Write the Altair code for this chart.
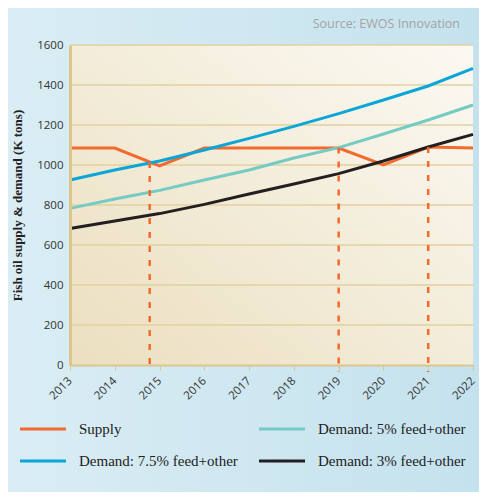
import altair as alt
import pandas as pd

years = [2013, 2014, 2015, 2016, 2017, 2018, 2019, 2020, 2021, 2022]
supply = [1085, 1085, 995, 1085, 1085, 1085, 1085, 1000, 1090, 1085]
demand_75 = [925, 975, 1020, 1075, 1133, 1193, 1257, 1325, 1395, 1483]
demand_5 = [783, 830, 873, 925, 975, 1035, 1087, 1155, 1225, 1300]
demand_3 = [683, 720, 757, 803, 855, 905, 957, 1020, 1090, 1153]

# legend lays out column by column: col 1 = Supply, 7.5%; col 2 = 5%, 3%
series_names = ["Supply", "Demand: 7.5% feed+other", "Demand: 5% feed+other", "Demand: 3% feed+other"]
series_colors = ["#f26a2e", "#0ba6d8", "#74cbc3", "#231f20"]
series_values = [supply, demand_75, demand_5, demand_3]

cross_years = [2014.78, 2019, 2021]
cross_values = [1015, 1087, 1090]

grid_values = [200, 400, 600, 800, 1000, 1200, 1400, 1600]
y_ticks = [0, 200, 400, 600, 800, 1000, 1200, 1400, 1600]

source_text = ["Source: EWOS Innovation"]

W, H = 403, 320
PAD = {"left": 62, "top": 37, "right": 6, "bottom": 127}

rows = []
for name, vals in zip(series_names, series_values):
    for yr, v in zip(years, vals):
        rows.append({"year": yr, "value": v, "series": name})
df = pd.DataFrame(rows)

xscale = alt.Scale(domain=[2013, 2022], nice=False, zero=False)
yscale = alt.Scale(domain=[0, 1600], nice=False)

xaxis = alt.Axis(values=years, format="d", labelAngle=-45, grid=False,
                 domainColor="#dcc68e", domainWidth=2,
                 tickColor="#dcc68e", tickSize=5, tickWidth=1,
                 labelFont="Open Sans", labelFontSize=11.5, labelColor="#333333",
                 labelAlign="right", labelBaseline="middle",
                 labelPadding=9, title=None, zindex=1)
yaxis = alt.Axis(values=y_ticks, format="d", grid=False, ticks=False,
                 domainColor="#dcc68e", domainWidth=3,
                 labelFont="Open Sans", labelFontSize=11.5, labelColor="#333333",
                 labelPadding=7,
                 title="Fish oil supply & demand (K tons)",
                 titleFont="Liberation Serif", titleFontSize=13,
                 titleFontWeight="bold", titleColor="#222222",
                 titlePadding=12, zindex=1)

one = pd.DataFrame({"a": [0]})

outer_bg = alt.Chart(one).mark_rect(
    fill=alt.LinearGradient(
        gradient="linear",
        stops=[alt.GradientStop(color="#daedf4", offset=0),
               alt.GradientStop(color="#c4e2ee", offset=1)],
        x1=0, x2=1, y1=0, y2=0,
    )
).encode(
    x=alt.value(-PAD["left"]), x2=alt.value(W + PAD["right"]),
    y=alt.value(-PAD["top"]), y2=alt.value(H + PAD["bottom"]),
)

plot_bg = alt.Chart(one).mark_rect(
    fill=alt.LinearGradient(
        gradient="linear",
        stops=[alt.GradientStop(color="#ebdfbf", offset=0),
               alt.GradientStop(color="#f3ecd9", offset=0.5),
               alt.GradientStop(color="#fbf9f3", offset=1)],
        x1=0, x2=1, y1=1, y2=0,
    )
).encode(
    x=alt.value(0), x2=alt.value(W), y=alt.value(0), y2=alt.value(H),
)

grid = alt.Chart(pd.DataFrame({"g": grid_values})).mark_rule(
    color="#e2d09e", strokeWidth=1.5
).encode(
    y=alt.Y("g:Q", scale=yscale, axis=yaxis),
    x=alt.value(0), x2=alt.value(W),
)

lines = alt.Chart(df).mark_line(strokeWidth=3).encode(
    x=alt.X("year:Q", scale=xscale, axis=xaxis),
    y=alt.Y("value:Q", scale=yscale, axis=yaxis),
    color=alt.Color("series:N",
                    scale=alt.Scale(domain=series_names, range=series_colors),
                    sort=series_names,
                    legend=alt.Legend(title=None, orient="none", legendX=-40, legendY=371,
                                      columns=2, symbolType="M-2,0H2", symbolSize=529,
                                      symbolStrokeWidth=3, labelFont="Liberation Serif",
                                      labelFontSize=15, labelColor="#222222",
                                      labelOffset=23, columnPadding=15, rowPadding=11)),
    detail="series:N",
)

dash_df = pd.DataFrame({"x": cross_years, "top": cross_values})
dashes = alt.Chart(dash_df).mark_rule(
    color="#f26a2e", strokeWidth=2.5, strokeDash=[6, 8]
).encode(
    x=alt.X("x:Q", scale=xscale, axis=xaxis),
    y=alt.Y("top:Q", scale=yscale, axis=yaxis),
    y2=alt.value(H + 7),
)

source = alt.Chart(pd.DataFrame({"t": source_text})).mark_text(
    align="right", baseline="alphabetic", font="Open Sans", fontSize=12.5,
    color="#a3a3a3"
).encode(
    text="t:N", x=alt.value(W - 13), y=alt.value(-17),
)

chart = alt.layer(outer_bg, plot_bg, grid, lines, dashes, source).properties(
    width=W, height=H,
    autosize=alt.AutoSizeParams(type="none"),
    padding=PAD,
).configure_view(stroke=None)

chart.save("out.html", embed_options={"renderer": "svg", "actions": False})
